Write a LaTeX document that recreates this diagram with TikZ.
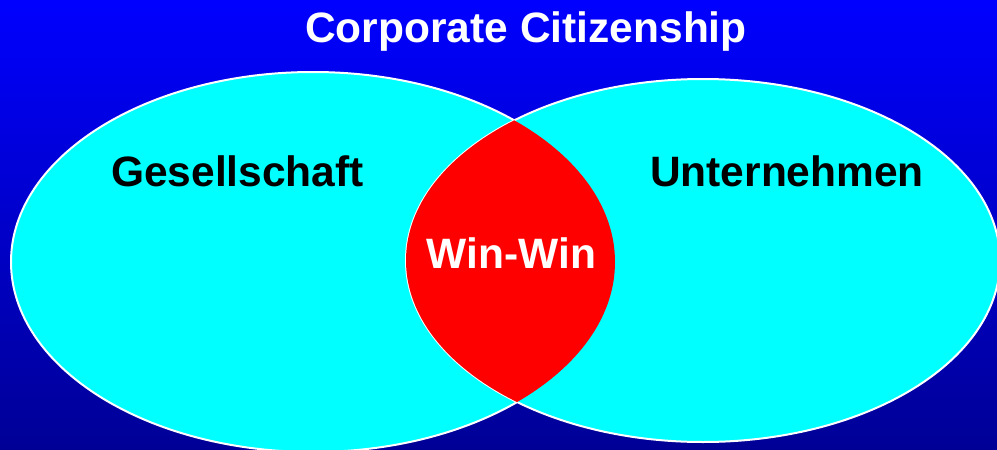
\documentclass[tikz,border=0pt]{standalone}
\usepackage{fontspec}
\setmainfont{Liberation Sans}
\definecolor{bgtop}{RGB}{0,0,255}
\definecolor{bgbot}{RGB}{0,0,150}
\definecolor{cy}{RGB}{0,255,255}
\definecolor{rd}{RGB}{255,0,0}
\begin{document}
\begin{tikzpicture}[x=1pt,y=-1pt,
  bigtext/.style={font=\fontsize{42.5}{50}\selectfont\bfseries, inner sep=0pt, anchor=base},
  venn/.style={fill=cy, draw=white, line width=2pt}]
\useasboundingbox (0,0) rectangle (997,450);
\clip (0,0) rectangle (997,450);
\shade[top color=bgtop, bottom color=bgbot] (0,0) rectangle (997,450);
\path[venn] (313,262) ellipse [x radius=302pt, y radius=190pt];
\path[venn] (703,260.5) ellipse [x radius=297pt, y radius=181.5pt];
\begin{scope}
  \clip (313,262) ellipse [x radius=302pt, y radius=190pt];
  \fill[rd] (703,260.5) ellipse [x radius=297pt, y radius=181.5pt];
\end{scope}
\node[bigtext, text=white] (title) at (526,42) {Corporate Citizenship};
\node[bigtext, text=black] (ges) at (237.5,186.5) {Gesellschaft};
\node[bigtext, text=black] (unt) at (787,186.5) {Unternehmen};
\node[bigtext, text=white] (win) at (511.5,268) {Win-Win};
\end{tikzpicture}
\end{document}
